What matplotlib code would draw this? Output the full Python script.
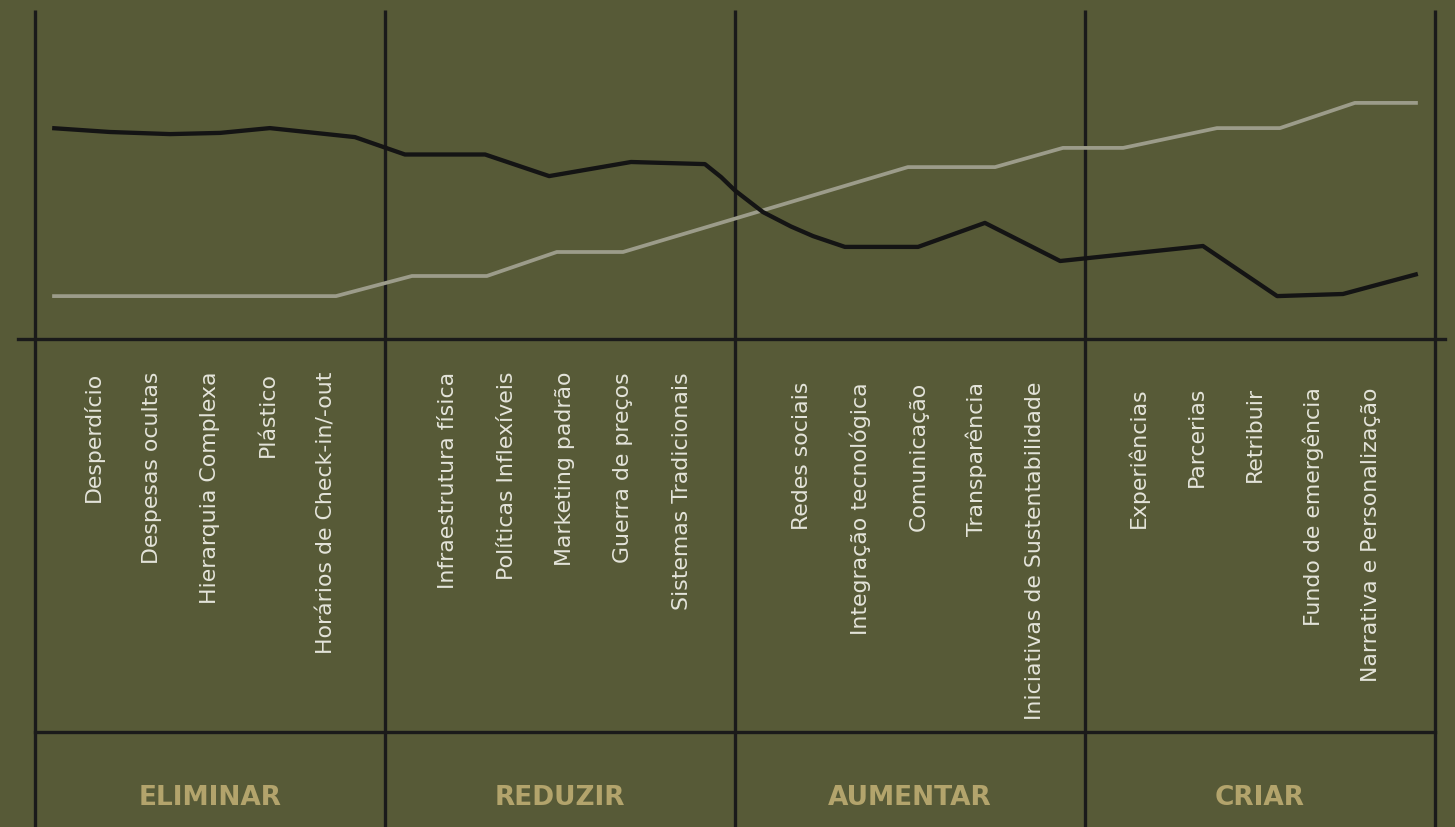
import matplotlib
matplotlib.use("Agg")
import matplotlib.pyplot as plt

# ---- data ----
sections = ["ELIMINAR", "REDUZIR", "AUMENTAR", "CRIAR"]
factors = [
    ["Desperdício", "Despesas ocultas", "Hierarquia Complexa", "Plástico",
     "Horários de Check-in/-out"],
    ["Infraestrutura física", "Políticas Inflexíveis", "Marketing padrão",
     "Guerra de preços", "Sistemas Tradicionais"],
    ["Redes sociais", "Integração tecnológica", "Comunicação", "Transparência",
     "Iniciativas de Sustentabilidade"],
    ["Experiências", "Parcerias", "Retribuir", "Fundo de emergência",
     "Narrativa e Personalização"],
]

# black curve (x in section units 0..4, y in score 0..10)
black_x = [0.049, 0.214, 0.386, 0.529, 0.671, 0.914, 1.057, 1.286, 1.469, 1.703,
           1.914, 1.96, 2.0, 2.08, 2.16, 2.223, 2.314, 2.523, 2.714, 2.929,
           3.337, 3.549, 3.737, 3.951]
black_y = [7.03, 6.9, 6.83, 6.87, 7.03, 6.73, 6.15, 6.15, 5.43, 5.9,
           5.83, 5.4, 4.95, 4.23, 3.75, 3.43, 3.07, 3.07, 3.87, 2.6,
           3.1, 1.43, 1.5, 2.17]

# grey curve
grey_x = [0.049, 0.86, 1.077, 1.291, 1.491, 1.68, 2.494, 2.743, 2.937, 3.109,
          3.377, 3.557, 3.771, 3.951]
grey_y = [1.43, 1.43, 2.1, 2.1, 2.9, 2.9, 5.73, 5.73, 6.37, 6.37,
          7.03, 7.03, 7.87, 7.87]

# ---- style ----
bg = "#575a37"
frame = "#1a1a1a"
txt = "#e4e4da"
gold = "#b3a46c"
plt.rcParams["font.family"] = ["DejaVu Sans"]

fig = plt.figure(figsize=(14.55, 8.28), dpi=100, facecolor=bg)
ax = fig.add_axes([0, 0, 1, 1])
ax.set_facecolor(bg)
# 350 px per section, 30 px per score unit, baseline at 340 px from top
ax.set_xlim(-35 / 350, 1420 / 350)
ax.set_ylim(-488 / 30, 340 / 30)
ax.axis("off")

top = (340 - 11) / 30
for b in range(5):
    ax.plot([b, b], [top, -20], color=frame, lw=2.4, solid_capstyle="butt")
ax.plot([-17 / 350, 1410 / 350], [0, 0], color=frame, lw=2.4)
ax.plot([0, 4], [-393 / 30, -393 / 30], color=frame, lw=2.4)

ax.plot(grey_x, grey_y, color="#9c9c8a", lw=2.7, solid_capstyle="butt",
        solid_joinstyle="round")
ax.plot(black_x, black_y, color="#141414", lw=3.1, solid_capstyle="butt",
        solid_joinstyle="round")

shift = [0, 0.014, 0.024, -0.015]
label_top = [372, 372, 382, 387]
for s, names in enumerate(factors):
    for i, name in enumerate(names):
        ax.text(s + (i + 1) / 6 + shift[s], (340 - label_top[s]) / 30, name,
                rotation=90, ha="center", va="top", color=txt, fontsize=15.8)
    ax.text(s + 0.5, (340 - 798) / 30, sections[s], ha="center", va="center",
            color=gold, fontsize=19, fontweight="bold")

fig.savefig("out.png", dpi=100, facecolor=bg)
